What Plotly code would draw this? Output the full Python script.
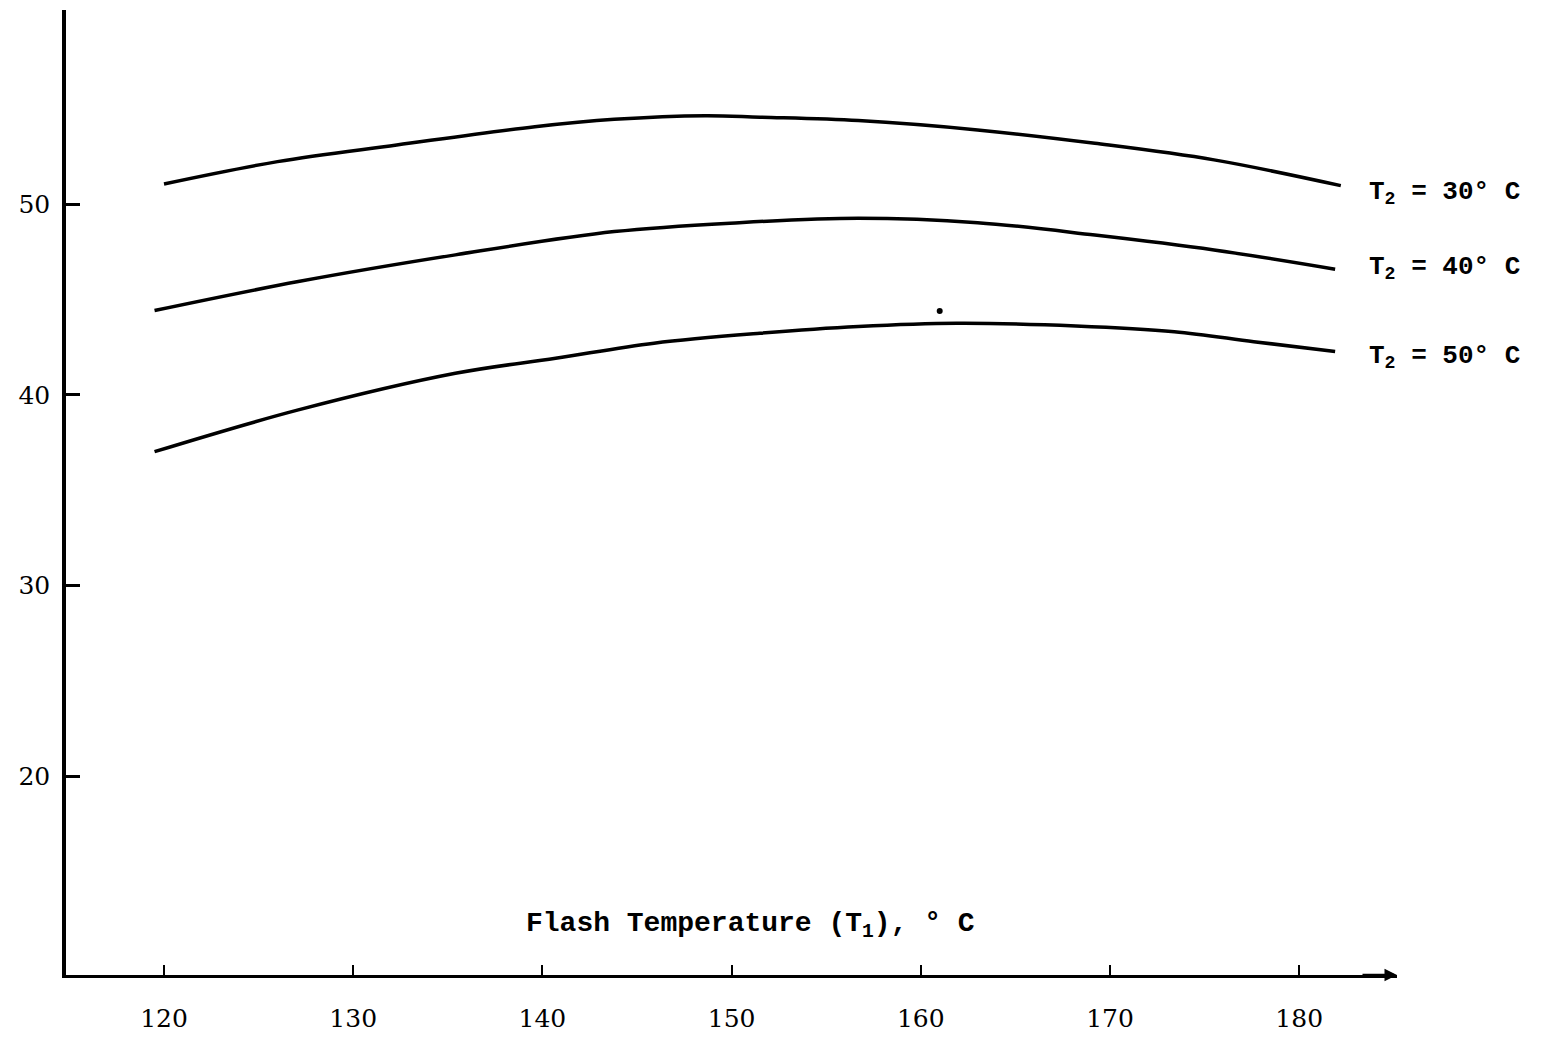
import plotly.graph_objects as go

# Flash temperature T1 (deg C) and curve values
t1_30 = [120.0, 126.0, 132.3, 139.6, 143.8, 148.6, 151.5, 156.7, 163.0, 169.2, 175.5, 182.2]
y_30 = [51.06, 52.23, 53.10, 54.06, 54.45, 54.64, 54.56, 54.38, 53.89, 53.19, 52.32, 50.97]

t1_40 = [119.5, 127.1, 135.4, 143.8, 150.4, 156.7, 163.0, 169.2, 175.5, 181.9]
y_40 = [44.42, 45.94, 47.34, 48.56, 49.03, 49.26, 49.03, 48.38, 47.60, 46.59]

t1_50 = [119.5, 127.1, 135.4, 140.7, 145.9, 151.5, 156.7, 161.9, 168.2, 173.4, 177.6, 181.9]
y_50 = [37.02, 39.21, 41.13, 41.92, 42.71, 43.23, 43.58, 43.75, 43.61, 43.31, 42.79, 42.27]

dot_x = [161.0]
dot_y = [44.4]

curve_labels = ["T<sub>2</sub> = 30° C", "T<sub>2</sub> = 40° C", "T<sub>2</sub> = 50° C"]
label_y = [50.6, 46.65, 42.0]

x_ticks = [120, 130, 140, 150, 160, 170, 180]
y_ticks = [20, 30, 40, 50]

x_title = "Flash Temperature (T<sub>1</sub>), ° C"

TICKFONT = "DejaVu Serif"
TYPEFONT = "Liberation Mono"

fig = go.Figure()
for xs, ys in [(t1_30, y_30), (t1_40, y_40), (t1_50, y_50)]:
    fig.add_trace(go.Scatter(x=xs, y=ys, mode="lines", line=dict(color="black", width=3.5, shape="spline"),
                             showlegend=False, hoverinfo="skip"))
fig.add_trace(go.Scatter(x=dot_x, y=dot_y, mode="markers", marker=dict(color="black", size=6),
                         showlegend=False, hoverinfo="skip"))

XR = [114.82, 185.17]
YR = [9.58, 60.18]

for txt, yy in zip(curve_labels, label_y):
    fig.add_annotation(x=183.6, y=yy, text="<b>" + txt + "</b>", showarrow=False, xanchor="left", yanchor="middle",
                       font=dict(family=TYPEFONT, size=26, color="black"))

fig.add_annotation(x=151.0, y=12.2, text="<b>" + x_title + "</b>", showarrow=False, xanchor="center", yanchor="middle",
                   font=dict(family=TYPEFONT, size=28, color="black"))

# arrow head at the end of the x axis
fig.add_annotation(x=XR[1], y=YR[0], ax=-36, ay=0, text="", showarrow=True, arrowhead=2,
                   arrowsize=1, arrowwidth=2.5, arrowcolor="black")

# page body has an 8px margin, so the figure is sized/offset to compensate
fig.update_layout(
    width=1535, height=1029,
    margin=dict(l=58, r=146, t=2, b=62),
    paper_bgcolor="white", plot_bgcolor="white",
    font=dict(family=TICKFONT, color="black"),
    xaxis=dict(range=XR, tickvals=x_ticks, ticktext=[str(v) for v in x_ticks], automargin=False,
               showgrid=False, zeroline=False, showline=True, linecolor="black", linewidth=3,
               ticks="inside", ticklen=10, tickwidth=1.5, tickcolor="black",
               tickfont=dict(family=TICKFONT, size=25, color="black"), ticklabelstandoff=19),
    yaxis=dict(range=YR, tickvals=y_ticks, ticktext=[str(v) for v in y_ticks], automargin=False,
               showgrid=False, zeroline=False, showline=True, linecolor="black", linewidth=3.5,
               ticks="inside", ticklen=14, tickwidth=2.5, tickcolor="black",
               tickfont=dict(family=TICKFONT, size=25, color="black"), ticklabelstandoff=7),
)

fig.write_html("out.html")
